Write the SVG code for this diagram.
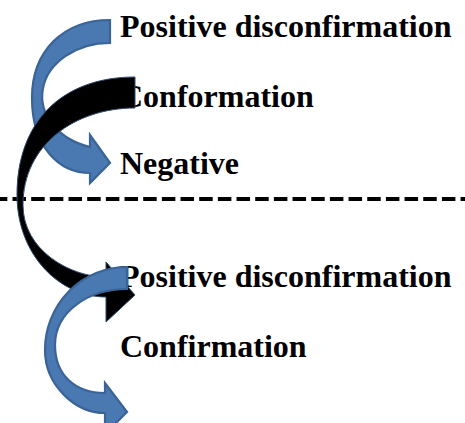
<svg xmlns="http://www.w3.org/2000/svg" width="465" height="423" viewBox="0 0 465 423">
  <style>
    .label { font-family: "Liberation Serif", "Times New Roman", serif; font-weight: bold; font-size: 32px; fill: #000; }
    .arrow-blue { fill: #4a78b0; stroke: #3a6498; stroke-width: 2.2; stroke-linejoin: miter; }
    .arrow-black { fill: #000; stroke: #2f4b70; stroke-width: 1; stroke-linejoin: miter; }
    .divider { stroke: #000; stroke-width: 4; stroke-dasharray: 13.5 5.17; stroke-dashoffset: 6.17; fill: none; }
  </style>

  <rect width="465" height="423" fill="#fff"/>

  <!-- divider between the two groups -->
  <line class="divider" x1="0" y1="199" x2="465" y2="199"/>

  <!-- labels -->
  <g id="label-positive-top"><text class="label" x="120" y="37">Positive disconfirmation</text></g>
  <g id="label-conformation"><text class="label" x="120" y="107">Conformation</text></g>
  <g id="label-negative"><text class="label" x="120" y="174">Negative</text></g>
  <g id="label-positive-bottom"><text class="label" x="120" y="287">Positive disconfirmation</text></g>
  <g id="label-confirmation"><text class="label" x="120" y="357">Confirmation</text></g>

  <!-- curved connectors -->
  <g id="connectors">
    <path id="arrow-positive-to-negative" class="arrow-blue"
          d="M110,20 C63.2,20 32,51 32,98 C32,148 60,173 90,173 L90,183 L110,163 L90,135 L90,147 A68,53.2 0 0 1 110,43 Z"/>
    <path id="arrow-conformation-to-positive" class="arrow-black"
          d="M135,77 C61.8,77 17,121.8 17,195 C17,255 60,297 106,297 L106,322 L135,295 L106,262 L106,277 C70,277 23,250 23,205 C23,145 75,108 135,108 Z"/>
    <path id="arrow-positive-to-below" class="arrow-blue"
          d="M127,267 A82,83 0 0 0 45,350 C45,385 75,413 105,413 L105,434 L127,412 L105,383 L105,393 C75,393 55,375 55,345 C55,312 88,289 127,289 Z"/>
  </g>
</svg>
